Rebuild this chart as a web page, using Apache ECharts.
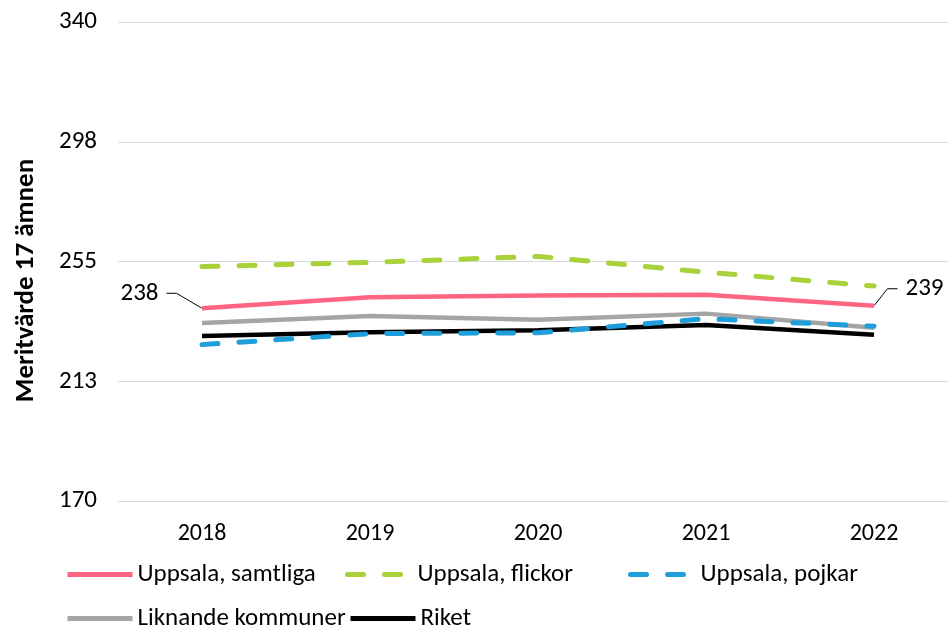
<!DOCTYPE html>
<html>
<head>
<meta charset="utf-8">
<script src="https://cdn.jsdelivr.net/npm/echarts@6/dist/echarts.min.js"></script>
<style>
  html, body { margin: 0; padding: 0; background: #ffffff; }
  #chart { width: 948px; height: 628px; }
</style>
</head>
<body>
<div id="chart"></div>
<script>
  // data
  var years = ['2018', '2019', '2020', '2021', '2022'];
  var samtliga = [238.4, 242.3, 242.9, 243.2, 239.3];
  var flickor = [253.2, 254.7, 256.8, 251.2, 246.3];
  var pojkar = [225.5, 229.4, 229.7, 234.7, 232.0];
  var liknande = [233.2, 235.7, 234.3, 236.5, 231.5];
  var riket = [228.6, 229.9, 230.6, 232.5, 229.0];

  var font = 'Carlito, "Liberation Sans", sans-serif';

  // first and last points carry a value label with a leader line
  function withEndLabels(arr) {
    return arr.map(function (v, i) {
      if (i === 0) {
        return { value: v, label: { show: true, position: 'left', formatter: String(Math.floor(v)) } };
      }
      if (i === arr.length - 1) {
        return { value: v, label: { show: true, position: 'right', formatter: String(Math.floor(v)) } };
      }
      return v;
    });
  }

  function legendAt(name, left, top) {
    return {
      data: [name],
      left: left,
      top: top,
      padding: 0,
      itemWidth: 65,
      itemHeight: 14,
      itemGap: 0,
      itemStyle: { opacity: 0 },
      lineStyle: { width: 5 },
      textStyle: { fontFamily: font, fontSize: 25, color: '#000' }
    };
  }

  var chart = echarts.init(document.getElementById('chart'));
  chart.setOption({
    animation: false,
    backgroundColor: '#fff',
    grid: { left: 118, top: 22, width: 840, height: 479, outerBoundsMode: 'none' },
    legend: [
      legendAt('Uppsala, samtliga', 65, 562),
      legendAt('Uppsala, flickor', 345, 562),
      legendAt('Uppsala, pojkar', 628, 562),
      legendAt('Liknande kommuner', 65, 606),
      legendAt('Riket', 348, 606)
    ],
    xAxis: {
      type: 'category',
      data: years,
      boundaryGap: true,
      axisLine: { show: false },
      axisTick: { show: false },
      axisLabel: { margin: 21, fontFamily: font, fontSize: 24, color: '#000' }
    },
    yAxis: {
      type: 'value',
      min: 170,
      max: 340,
      interval: 42.5,
      name: 'Meritvärde 17 ämnen',
      nameLocation: 'middle',
      nameGap: 78,
      nameTextStyle: { fontFamily: font, fontSize: 27, fontWeight: 'bold', color: '#000', padding: [0, 38, 0, 0] },
      axisLabel: {
        margin: 21,
        fontFamily: font,
        fontSize: 25,
        color: '#000',
        formatter: function (v) { return String(Math.round(v)); }
      },
      splitLine: { lineStyle: { color: '#d9d9d9', width: 1 } }
    },
    series: [
      {
        name: 'Liknande kommuner',
        type: 'line',
        data: liknande,
        symbol: 'none',
        itemStyle: { color: '#a5a5a5' },
        lineStyle: { color: '#a5a5a5', width: 4.5 },
        z: 2
      },
      {
        name: 'Riket',
        type: 'line',
        data: riket,
        symbol: 'none',
        itemStyle: { color: '#000000' },
        lineStyle: { color: '#000000', width: 4.5 },
        z: 3
      },
      {
        name: 'Uppsala, pojkar',
        type: 'line',
        data: pojkar,
        symbol: 'none',
        itemStyle: { color: '#1e9fdb' },
        lineStyle: { color: '#1e9fdb', width: 5, type: [16, 21], cap: 'round' },
        z: 4
      },
      {
        name: 'Uppsala, flickor',
        type: 'line',
        data: flickor,
        symbol: 'none',
        itemStyle: { color: '#a8d13a' },
        lineStyle: { color: '#a8d13a', width: 5, type: [16, 21], cap: 'round' },
        z: 4
      },
      {
        name: 'Uppsala, samtliga',
        type: 'line',
        data: withEndLabels(samtliga),
        symbol: 'circle',
        symbolSize: 1,
        showSymbol: true,
        itemStyle: { color: '#ff6482' },
        lineStyle: { color: '#ff6482', width: 4.5 },
        label: {
          fontFamily: font,
          fontSize: 25,
          color: '#000',
          padding: [0, 8],
          backgroundColor: 'rgba(255,255,255,0)'
        },
        labelLine: { show: true, length2: 10, lineStyle: { color: '#000', width: 1 } },
        labelLayout: function (p) {
          if (p.dataIndex === 0) return { dx: -30, dy: -15 };
          return { dx: 18, dy: -17 };
        },
        z: 5
      }
    ]
  });
</script>
</body>
</html>
